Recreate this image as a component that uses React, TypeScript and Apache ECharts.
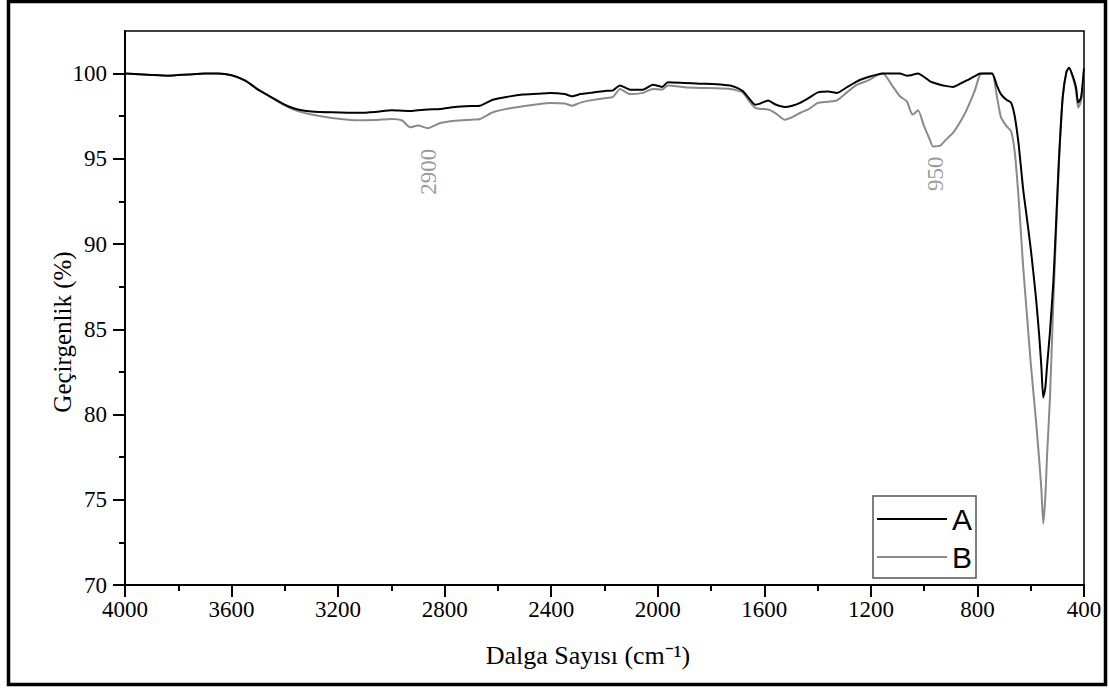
import React, { useEffect, useRef } from "react";
import * as echarts from "echarts";

const wavenumbers = [
  4000, 3900, 3839, 3760, 3700, 3651, 3600, 3550, 3500, 3460, 3426, 3390, 3351, 3300, 3223, 3125, 3060, 2998,
  2960, 2930, 2900, 2863, 2817, 2761, 2700, 2667, 2619, 2560, 2506, 2450, 2405, 2350, 2322, 2290, 2254, 2200,
  2168, 2142, 2104, 2056, 2018, 1984, 1962, 1900, 1842, 1780, 1729, 1700, 1680, 1655, 1635, 1616, 1586, 1560,
  1523, 1495, 1466, 1430, 1399, 1360, 1327, 1290, 1252, 1210, 1177, 1155, 1120, 1091, 1065, 1050, 1042, 1023,
  1000, 978, 967, 940, 920, 892, 860, 840, 810, 790, 770, 745, 727, 712, 690, 674, 660, 645, 629, 615, 599, 580,
  568, 560, 553, 545, 539, 528, 515, 504, 494, 480, 466, 456, 441, 430, 422, 411, 400,
];

const transA = [
  100.0, 99.92, 99.88, 99.95, 100.0, 100.0, 99.9, 99.6, 99.06, 98.7, 98.4, 98.1, 97.9, 97.78, 97.73, 97.7, 97.75, 97.85,
  97.82, 97.8, 97.85, 97.9, 97.93, 98.04, 98.1, 98.12, 98.47, 98.65, 98.77, 98.82, 98.87, 98.8, 98.67, 98.8, 98.87, 98.98,
  99.02, 99.31, 99.06, 99.06, 99.35, 99.22, 99.49, 99.45, 99.41, 99.38, 99.3, 99.15, 98.96, 98.5, 98.18, 98.24, 98.43, 98.2,
  98.04, 98.12, 98.28, 98.6, 98.9, 98.95, 98.87, 99.2, 99.55, 99.8, 99.94, 100.0, 100.0, 100.0, 99.88, 99.9, 99.94, 100.0,
  99.8, 99.55, 99.48, 99.35, 99.28, 99.22, 99.45, 99.6, 99.85, 100.0, 100.0, 100.0, 99.3, 98.8, 98.45, 98.3, 97.5, 95.8, 93.3, 91.6, 89.6, 86.8,
  84.6, 82.8, 81.0, 81.6, 82.8, 84.8, 87.8, 91.5, 95.0, 98.6, 100.1, 100.35, 99.8, 99.2, 98.3, 98.6, 100.3,
];

const transB = [
  100.0, 99.92, 99.88, 99.95, 100.0, 100.0, 99.9, 99.6, 99.06, 98.7, 98.35, 98.05, 97.8, 97.6, 97.4, 97.26, 97.28, 97.34,
  97.25, 96.85, 96.95, 96.8, 97.1, 97.24, 97.3, 97.34, 97.73, 97.95, 98.08, 98.2, 98.28, 98.25, 98.12, 98.3, 98.43, 98.55,
  98.63, 99.1, 98.8, 98.87, 99.1, 99.06, 99.3, 99.2, 99.16, 99.14, 99.1, 99.0, 98.87, 98.35, 97.99, 97.93, 97.89, 97.7,
  97.3, 97.45, 97.69, 97.95, 98.28, 98.35, 98.43, 98.9, 99.35, 99.6, 99.9, 100.0, 99.3, 98.67, 98.37, 97.75, 97.6, 97.85,
  96.9, 96.1, 95.73, 95.77, 96.1, 96.52, 97.3, 97.89, 99.0, 99.94, 100.0, 100.0, 98.67, 97.45, 96.9, 96.63, 95.4, 92.6, 88.8, 86.0, 82.85, 79.6,
  77.3, 75.6, 73.6, 75.2, 77.5, 80.9, 86.6, 91.0, 94.8, 98.6, 100.1, 100.35, 99.7, 99.0, 98.0, 98.4, 100.2,
];

const yTicks = [70, 75, 80, 85, 90, 95, 100];
const yMinorTicks = [72.5, 77.5, 82.5, 87.5, 92.5, 97.5];

const annotations = [
  { label: "2900", x: 2862, y: 94.25 },
  { label: "950", x: 959, y: 94.13 },
];

const serif = "Liberation Serif";

export default function App() {
  const ref = useRef<HTMLDivElement>(null);
  useEffect(() => {
    if (!ref.current) return;
    const chart = echarts.init(ref.current, undefined, { renderer: "svg" });
    const dataA = wavenumbers.map((w, i) => [w, transA[i]]);
    const dataB = wavenumbers.map((w, i) => [w, transB[i]]);
    chart.setOption({
      animation: false,
      backgroundColor: "#fff",
      textStyle: { fontFamily: serif },
      grid: {
        left: 125,
        top: 31,
        right: 25,
        bottom: 104,
        show: true,
        borderColor: "#000",
        borderWidth: 1.5,
        backgroundColor: "transparent",
      },
      xAxis: {
        type: "value",
        inverse: true,
        min: 400,
        max: 4000,
        interval: 400,
        axisLine: { show: true, lineStyle: { color: "#000", width: 2 } },
        axisTick: { show: true, length: 12, lineStyle: { color: "#000", width: 2 } },
        minorTick: { show: true, splitNumber: 2, length: 6, lineStyle: { color: "#000", width: 2 } },
        splitLine: { show: false },
        minorSplitLine: { show: false },
        axisLabel: {
          color: "#000",
          fontFamily: serif,
          fontSize: 23,
          margin: 13,
          formatter: (v: number) => `{t|${v}}`,
          rich: { t: { fontFamily: serif, fontSize: 23, color: "#000" } },
        },
      },
      yAxis: [
        {
          type: "value",
          min: 70,
          max: 102.5,
          axisLine: { show: true, onZero: false, lineStyle: { color: "#000", width: 2 } },
          axisTick: { show: true, length: 12, customValues: yTicks, lineStyle: { color: "#000", width: 2 } },
          splitLine: { show: false },
          axisLabel: { color: "#000", fontFamily: serif, fontSize: 23, margin: 18, customValues: yTicks },
        },
        {
          type: "value",
          position: "left",
          min: 70,
          max: 102.5,
          axisLine: { show: false },
          axisTick: { show: true, length: 6, customValues: yMinorTicks, lineStyle: { color: "#000", width: 2 } },
          splitLine: { show: false },
          axisLabel: { show: false },
        },
      ],
      legend: {
        left: 873,
        top: 496,
        orient: "vertical",
        icon: "rect",
        itemWidth: 70,
        itemHeight: 2,
        itemGap: 8,
        padding: [8, 4, 6, 4],
        borderColor: "#555",
        borderWidth: 1.5,
        backgroundColor: "#fff",
        textStyle: { fontFamily: "Liberation Sans", fontSize: 30, color: "#000" },
        data: ["A", "B"],
      },
      series: [
        {
          name: "B",
          type: "line",
          data: dataB,
          smooth: 0.2,
          showSymbol: false,
          lineStyle: { color: "#8a8a8a", width: 2 },
          itemStyle: { color: "#8a8a8a" },
        },
        {
          name: "A",
          type: "line",
          data: dataA,
          smooth: 0.2,
          showSymbol: false,
          lineStyle: { color: "#000", width: 2 },
          itemStyle: { color: "#000" },
        },
        {
          name: "notes",
          type: "scatter",
          symbolSize: 0,
          silent: true,
          data: annotations.map((a) => ({ value: [a.x, a.y], name: a.label })),
          label: {
            show: true,
            position: "inside",
            rotate: 90,
            formatter: (p: any) => p.name,
            color: "#808080",
            fontFamily: serif,
            fontSize: 23,
          },
        },
      ],
      graphic: [
        {
          type: "rect",
          shape: { x: 8.5, y: 1.5, width: 1097, height: 683 },
          style: { fill: "none", stroke: "#000", lineWidth: 3.5 },
          silent: true,
        },
        {
          type: "text",
          x: 62,
          y: 332,
          rotation: Math.PI / 2,
          style: {
            text: "Geçirgenlik (%)",
            fontFamily: serif,
            fontSize: 25,
            fill: "#000",
            align: "center",
            verticalAlign: "middle",
          },
        },
        {
          type: "text",
          x: 588,
          y: 655,
          style: {
            text: "Dalga Sayısı (cm⁻¹)",
            fontFamily: serif,
            fontSize: 26,
            fill: "#000",
            align: "center",
            verticalAlign: "middle",
          },
        },
      ],
    });
    return () => chart.dispose();
  }, []);
  return <div ref={ref} style={{ position: "fixed", left: 0, top: 0, width: 1109, height: 689 }} />;
}
